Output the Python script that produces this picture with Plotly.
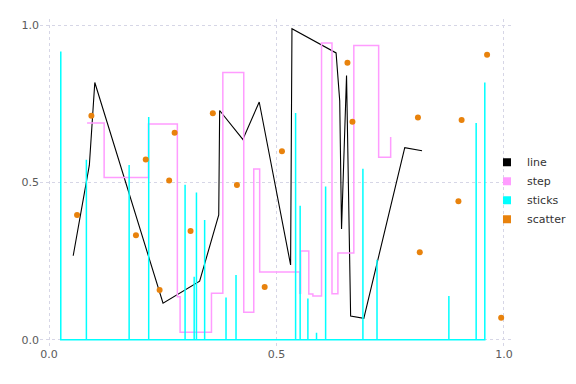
import plotly.graph_objects as go

# ---- data ----
line_x = [0.053, 0.0885, 0.1005, 0.2505, 0.331, 0.373, 0.375, 0.426, 0.462, 0.531,
          0.534, 0.631, 0.639, 0.643, 0.654, 0.663, 0.692, 0.782, 0.820]
line_y = [0.267, 0.555, 0.818, 0.116, 0.186, 0.397, 0.729, 0.637, 0.756, 0.238,
          0.989, 0.912, 0.760, 0.352, 0.840, 0.075, 0.068, 0.611, 0.601]

step_x = [0.0835, 0.121, 0.2185, 0.282, 0.288, 0.357, 0.382, 0.428, 0.450, 0.463,
          0.551, 0.553, 0.571, 0.580, 0.599, 0.622, 0.635, 0.670, 0.7246, 0.751]
step_y = [0.689, 0.516, 0.686, 0.137, 0.024, 0.148, 0.850, 0.087, 0.543, 0.215,
          0.148, 0.282, 0.145, 0.139, 0.944, 0.146, 0.276, 0.936, 0.580, 0.645]

stick_x = [0.0257, 0.082, 0.176, 0.219, 0.299, 0.319, 0.324, 0.342, 0.389, 0.411,
           0.542, 0.552, 0.569, 0.588, 0.608, 0.690, 0.721, 0.879, 0.939, 0.958]
stick_y = [0.917, 0.572, 0.556, 0.708, 0.493, 0.200, 0.468, 0.381, 0.134, 0.206,
           0.721, 0.426, 0.131, 0.022, 0.487, 0.544, 0.254, 0.139, 0.689, 0.818]

scatter_x = [0.0615, 0.093, 0.191, 0.2125, 0.243, 0.264, 0.276, 0.311, 0.360, 0.413,
             0.474, 0.512, 0.656, 0.667, 0.811, 0.815, 0.900, 0.907, 0.963, 0.994]
scatter_y = [0.397, 0.712, 0.332, 0.573, 0.158, 0.506, 0.658, 0.346, 0.720, 0.492,
             0.168, 0.599, 0.881, 0.693, 0.707, 0.278, 0.440, 0.699, 0.906, 0.070]

tick_vals = [0.0, 0.5, 1.0]
tick_text = ["0.0", "0.5", "1.0"]

series_names = ["line", "step", "sticks", "scatter"]
colors = {"line": "#000000", "step": "#ff9cff", "sticks": "#00ffff", "scatter": "#e8820c"}

# sticks: build one path that drops back to the baseline between sticks
sx, sy = [], []
for xv, yv in sorted(zip(stick_x, stick_y)):
    sx += [xv, xv, xv]
    sy += [0.0, yv, 0.0]

fig = go.Figure()
fig.add_trace(go.Scatter(x=line_x, y=line_y, mode="lines", showlegend=False,
                         line=dict(color=colors["line"], width=1.1)))
fig.add_trace(go.Scatter(x=step_x, y=step_y, mode="lines", showlegend=False,
                         line=dict(color=colors["step"], width=1.5, shape="hv")))
fig.add_trace(go.Scatter(x=sx, y=sy, mode="lines", showlegend=False,
                         line=dict(color=colors["sticks"], width=1.5)))
fig.add_trace(go.Scatter(x=scatter_x, y=scatter_y, mode="markers", showlegend=False,
                         marker=dict(color=colors["scatter"], size=6, line=dict(width=0))))

# legend entries (square swatches)
for name in series_names:
    fig.add_trace(go.Scatter(x=[None], y=[None], mode="markers", name=name,
                             marker=dict(symbol="square", size=8, color=colors[name],
                                         line=dict(width=0))))

axis_common = dict(
    tickvals=tick_vals, ticktext=tick_text, showgrid=True,
    gridcolor="#d6d6e6", griddash="dot", gridwidth=1,
    zeroline=False, showline=False, ticks="", automargin=False,
    tickfont=dict(family="DejaVu Sans", size=11, color="#5a5a5a"),
)
fig.update_xaxes(range=[-0.02, 1.02], **axis_common)
fig.update_yaxes(range=[-0.02, 1.02], **axis_common)

fig.update_layout(
    template="none",
    width=576, height=384,
    margin=dict(l=40, r=63, t=19, b=38, autoexpand=False),
    paper_bgcolor="white", plot_bgcolor="white",
    font=dict(family="DejaVu Sans", size=11, color="#333333"),
    legend=dict(x=0.945, y=0.475, xanchor="left", yanchor="middle",
                bgcolor="rgba(0,0,0,0)", borderwidth=0,
                font=dict(size=11, color="#333333")),
)

fig.write_html("out.html",
               config={"displayModeBar": False},
               post_script="document.body.style.margin='0';document.body.style.padding='0';document.body.style.overflow='hidden';")
